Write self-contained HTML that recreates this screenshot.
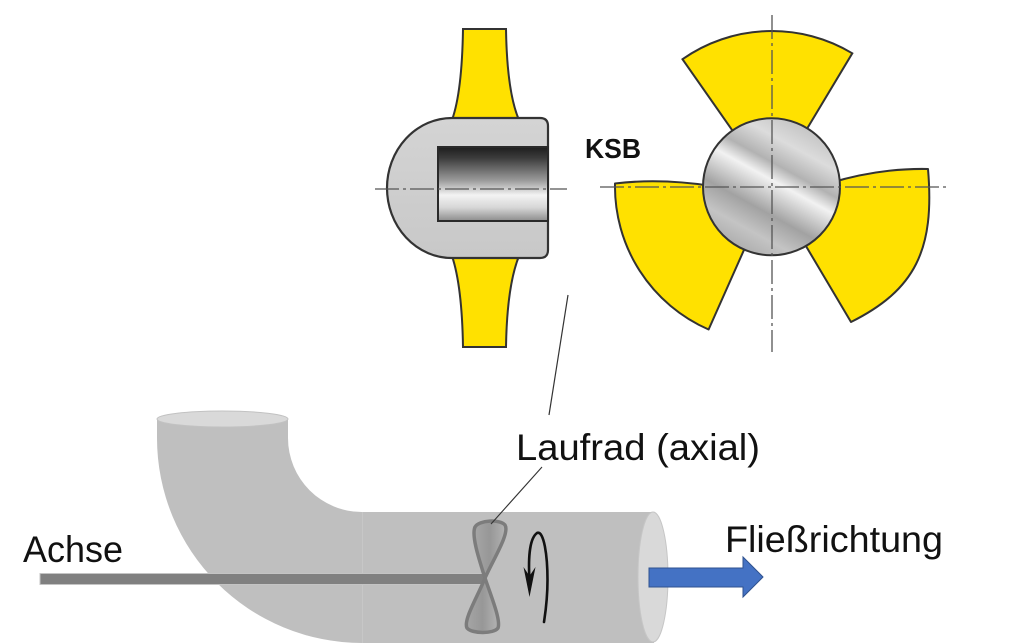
<!DOCTYPE html>
<html>
<head>
<meta charset="utf-8">
<style>
html,body{margin:0;padding:0;background:#fff;}
svg{display:block;}
</style>
</head>
<body>
<svg width="1024" height="643" viewBox="0 0 1024 643" xmlns="http://www.w3.org/2000/svg">
<defs>
  <linearGradient id="bore" x1="0" y1="0" x2="0" y2="1">
    <stop offset="0" stop-color="#1e1e1e"/>
    <stop offset="0.15" stop-color="#3c3c3c"/>
    <stop offset="0.45" stop-color="#9a9a9a"/>
    <stop offset="0.65" stop-color="#f3f3f3"/>
    <stop offset="0.82" stop-color="#d6d6d6"/>
    <stop offset="1" stop-color="#8c8c8c"/>
  </linearGradient>
  <linearGradient id="hubside" x1="0" y1="0" x2="0" y2="1">
    <stop offset="0" stop-color="#d4d4d4"/>
    <stop offset="1" stop-color="#c8c8c8"/>
  </linearGradient>
  <linearGradient id="metal" x1="0.2" y1="1" x2="0.75" y2="0">
    <stop offset="0" stop-color="#a4a4a4"/>
    <stop offset="0.2" stop-color="#c4c4c4"/>
    <stop offset="0.35" stop-color="#a2a2a2"/>
    <stop offset="0.47" stop-color="#d2d2d2"/>
    <stop offset="0.55" stop-color="#f2f2f2"/>
    <stop offset="0.65" stop-color="#b2b2b2"/>
    <stop offset="0.8" stop-color="#dcdcdc"/>
    <stop offset="1" stop-color="#bdbdbd"/>
  </linearGradient>
  <linearGradient id="prop" x1="0" y1="0" x2="1" y2="0">
    <stop offset="0" stop-color="#a6a6a6"/>
    <stop offset="0.5" stop-color="#979797"/>
    <stop offset="1" stop-color="#b4b4b4"/>
  </linearGradient>
</defs>

<!-- ===== Side view of impeller ===== -->
<path d="M463,29 L506,29 Q507,92 519,120 L452,120 Q462,92 463,29 Z" fill="#ffe100" stroke="#333" stroke-width="2"/>
<path d="M452,256 L519,256 Q507,286 506,347 L463,347 Q462,286 452,256 Z" fill="#ffe100" stroke="#333" stroke-width="2"/>
<path d="M452,118 L540,118 Q548,118 548,126 L548,250 Q548,258 540,258 L452,258 A65,70 0 0 1 452,118 Z" fill="url(#hubside)" stroke="#333" stroke-width="2.2"/>
<rect x="438" y="147" width="110" height="74" fill="url(#bore)" stroke="#2a2a2a" stroke-width="2"/>
<line x1="375" y1="189" x2="567" y2="189" stroke="#555" stroke-width="1.3" stroke-dasharray="24 4 3 4"/>

<!-- KSB -->
<text x="585" y="158" font-family="Liberation Sans, sans-serif" font-weight="bold" font-size="28" fill="#111" textLength="56" lengthAdjust="spacingAndGlyphs">KSB</text>

<!-- ===== Front view ===== -->
<!-- top blade -->
<path d="M737.6,137.9 L682.5,59.2 A156,156 0 0 1 852.3,53.3 L802.9,135.6 Z" fill="#ffe100" stroke="#333" stroke-width="2"/>
<!-- right blade -->
<path d="M830,183 Q880,168 928,169 C935,250 915,290 851,322 L800,236 Z" fill="#ffe100" stroke="#333" stroke-width="2" stroke-linejoin="round"/>
<!-- left blade -->
<path d="M747.6,241.8 L708.6,329.5 A156,156 0 0 1 615,183.5 Q660,178 712,186 Z" fill="#ffe100" stroke="#333" stroke-width="2" stroke-linejoin="round"/>
<circle cx="771.5" cy="186.8" r="68.5" fill="url(#metal)" stroke="#333" stroke-width="2"/>
<line x1="772" y1="15" x2="772" y2="352" stroke="#555" stroke-width="1.3" stroke-dasharray="24 4 3 4"/>
<line x1="600" y1="187" x2="947" y2="187" stroke="#555" stroke-width="1.3" stroke-dasharray="24 4 3 4"/>

<!-- leader line top -->
<line x1="568" y1="295" x2="549" y2="415" stroke="#333" stroke-width="1.2"/>

<!-- ===== Pipe ===== -->
<path d="M157,419 L157,438 A205,205 0 0 0 362,643 L654,643 L654,512 L362,512 A74,74 0 0 1 288,438 L288,419 Z" fill="#bfbfbf"/>
<line x1="362.5" y1="512" x2="362.5" y2="643" stroke="#c7c7c7" stroke-width="1"/>
<ellipse cx="222.5" cy="419" rx="65.5" ry="8" fill="#d9d9d9" stroke="#c2c2c2" stroke-width="1"/>
<ellipse cx="653" cy="577" rx="15" ry="65" fill="#d9d9d9" stroke="#c6c6c6" stroke-width="1"/>

<!-- axle -->
<rect x="40" y="573.5" width="445" height="11" fill="#808080" stroke="#c4c4c4" stroke-width="1"/>

<!-- propeller -->
<path d="M485,578 C480,562 471,536 475,527 C479,520 500,519 505,525 C510,533 494,558 485,578 Z" fill="url(#prop)" stroke="#7c7c7c" stroke-width="3.5" stroke-linejoin="round"/>
<path d="M485,578 C491,596 501,620 498,628 C494,634 472,634 467,628 C463,620 478,596 485,578 Z" fill="url(#prop)" stroke="#7c7c7c" stroke-width="3.5" stroke-linejoin="round"/>

<!-- leader line to propeller -->
<line x1="542" y1="467" x2="491" y2="524" stroke="#333" stroke-width="1.1"/>

<!-- rotation arrow -->
<path d="M529.5,580 C528,556 530,538 537,533 C544,530 547.5,556 547.5,580 C547.5,600 545.5,612 544,622" fill="none" stroke="#111" stroke-width="2.6" stroke-linecap="round"/>
<polygon points="523.5,567 529.5,576 535.5,567 529.5,597" fill="#111"/>

<!-- flow arrow -->
<path d="M649,568 L743,568 L743,557 L763,577 L743,597 L743,587 L649,587 Z" fill="#4472c4" stroke="#2f528f" stroke-width="1"/>

<!-- labels -->
<text x="23" y="562" font-family="Liberation Sans, sans-serif" font-size="37" fill="#111" textLength="100" lengthAdjust="spacingAndGlyphs">Achse</text>
<text x="516" y="460" font-family="Liberation Sans, sans-serif" font-size="37" fill="#111" textLength="244" lengthAdjust="spacingAndGlyphs">Laufrad (axial)</text>
<text x="725" y="552" font-family="Liberation Sans, sans-serif" font-size="37" fill="#111" textLength="218" lengthAdjust="spacingAndGlyphs">Fließrichtung</text>
</svg>
</body>
</html>
